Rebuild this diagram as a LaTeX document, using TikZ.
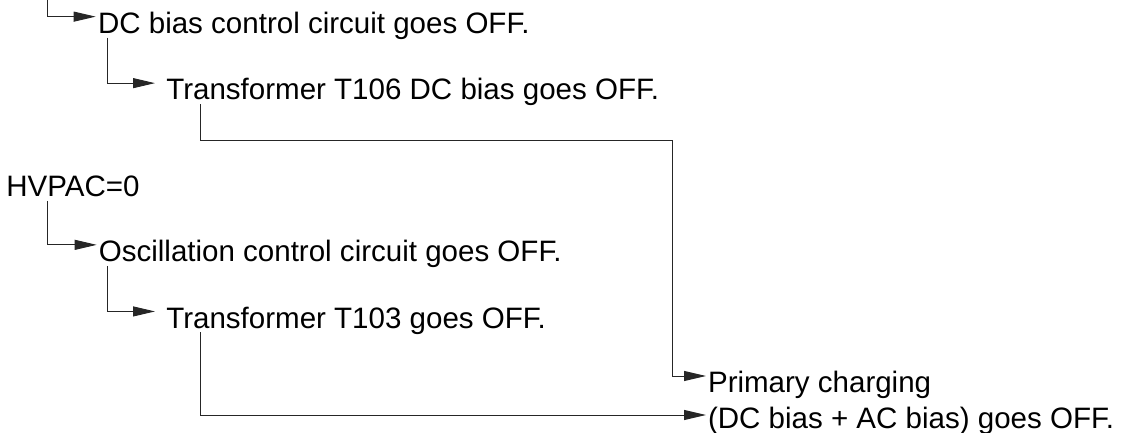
\documentclass[tikz,border=0pt]{standalone}
\usepackage{fontspec}
\setmainfont{Liberation Sans}
\usepackage{tikz}
\usetikzlibrary{positioning,arrows.meta}
\tikzset{
  flowarrow/.style={-{Triangle[length=0.44cm, width=0.2cm]}, line width=0.55pt, draw=black!85},
  stepnote/.style={inner sep=0pt, anchor=base west, font=\fontsize{16.8}{20.8}\selectfont, text height=0.33cm, text depth=0.076cm},
  endnote/.style={inner sep=0pt, anchor=north west, align=left, font=\fontsize{16.8}{20.8}\selectfont}
}
\begin{document}
\begin{tikzpicture}
  \useasboundingbox (0,0) rectangle (22.6,8.66);
  % DC bias branch
  \coordinate (dcin) at (0.954,8.66);
  \node[stepnote] (dcbias) at (1.954,7.99) {DC bias control circuit goes OFF.};
  \node[stepnote] (t106) at (3.32,6.66) {Transformer T106 DC bias goes OFF.};
  % oscillation branch
  \node[stepnote] (hvpac) at (0.12,4.726) {HVPAC=0};
  \node[stepnote] (osc) at (1.97,3.426) {Oscillation control circuit goes OFF.};
  \node[stepnote] (t103) at (3.32,2.094) {Transformer T103 goes OFF.};
  \node[endnote] (charge) at (14.154,1.25) {Primary charging\\(DC bias + AC bias) goes OFF.};
  \coordinate (t106bend) at (13.454,5.846);

  \draw[flowarrow] (dcin) |- ([xshift=-0.04cm]dcbias.north west);
  \draw[flowarrow] ([xshift=0.192cm]dcbias.south west) |- ([xshift=-0.22cm]t106.north west);
  \draw[flowarrow] ([xshift=0.68cm]t106.south west) |- (t106bend) |- ([xshift=-0.034cm, yshift=-0.11cm]charge.north west);
  \draw[flowarrow] ([xshift=0.834cm]hvpac.south west) |- ([xshift=-0.036cm]osc.north west);
  \draw[flowarrow] ([xshift=0.176cm]osc.south west) |- ([xshift=-0.22cm]t103.north west);
  \draw[flowarrow] ([xshift=0.68cm]t103.south west) |- ([xshift=-0.034cm, yshift=-0.89cm]charge.north west);
\end{tikzpicture}
\end{document}
